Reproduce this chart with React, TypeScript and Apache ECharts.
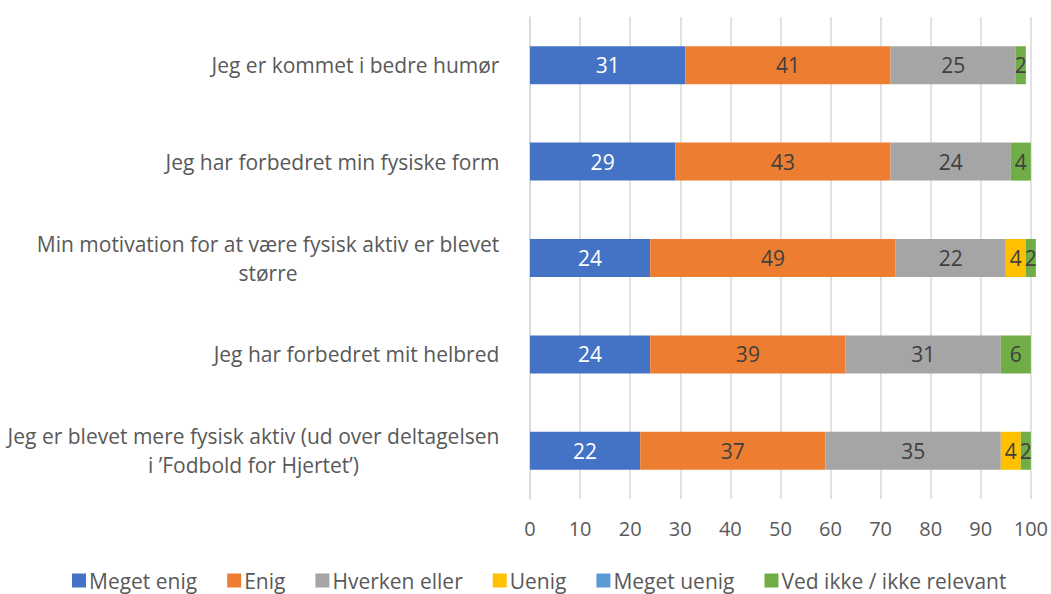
import React, { useEffect, useRef } from "react";
import * as echarts from "echarts";

const categories = [
  "Jeg er kommet i bedre humør",
  "Jeg har forbedret min fysiske form",
  "Min motivation for at være fysisk aktiv er blevet større",
  "Jeg har forbedret mit helbred",
  "Jeg er blevet mere fysisk aktiv (ud over deltagelsen i ’Fodbold for Hjertet’)",
];

const seriesNames = [
  "Meget enig",
  "Enig",
  "Hverken eller",
  "Uenig",
  "Meget uenig",
  "Ved ikke / ikke relevant",
];

const megetEnig = [31, 29, 24, 24, 22];
const enig = [41, 43, 49, 39, 37];
const hverkenEller = [25, 24, 22, 31, 35];
const uenig = [0, 0, 4, 0, 4];
const megetUenig = [0, 0, 0, 0, 0];
const vedIkke = [2, 4, 2, 6, 2];

const xTicks = [0, 100, 10]; // min, max, interval

const colors = ["#4472C4", "#ED7D31", "#A5A5A5", "#FFC000", "#5B9BD5", "#70AD47"];
const labelColors = ["#FFFFFF", "#404040", "#404040", "#404040", "#404040", "#404040"];

const FONT = "'Open Sans', sans-serif";
const CAT_SIZE = 21;
const WRAP_W = 498;

function wrapLabels(texts: string[]) {
  const canvas = document.createElement("canvas");
  const ctx = canvas.getContext("2d")!;
  ctx.font = `${CAT_SIZE}px ${FONT}`;
  return texts.map((t) => {
    const words = t.split(" ");
    const lines: string[] = [];
    let cur = "";
    for (const w of words) {
      const test = cur ? cur + " " + w : w;
      if (cur && ctx.measureText(test).width > WRAP_W) {
        lines.push(cur);
        cur = w;
      } else cur = test;
    }
    if (cur) lines.push(cur);
    const width = Math.ceil(Math.max(...lines.map((l) => ctx.measureText(l).width))) + 1;
    return { lines, width };
  });
}

export default function App() {
  const ref = useRef<HTMLDivElement>(null);
  useEffect(() => {
    if (!ref.current) return;
    const chart = echarts.init(ref.current, null, { renderer: "svg" });
    const values = [megetEnig, enig, hverkenEller, uenig, megetUenig, vedIkke];
    const wrapped = wrapLabels(categories);
    const rich: Record<string, any> = {};
    wrapped.forEach((w, i) => {
      rich["c" + i] = {
        width: w.width,
        align: "center",
        fontSize: CAT_SIZE,
        color: "#595959",
        fontFamily: FONT,
        lineHeight: 29,
      };
    });
    chart.setOption({
      animation: false,
      textStyle: { fontFamily: FONT },
      grid: { left: 530, right: 19, top: 17, bottom: 95, containLabel: false },
      legend: {
        top: 570,
        left: 72,
        padding: 0,
        icon: "rect",
        itemWidth: 14,
        itemHeight: 14,
        itemGap: 30,
        textStyle: { fontSize: 21, color: "#595959", fontFamily: FONT, padding: [0, 0, 0, -2] },
        data: seriesNames,
      },
      xAxis: {
        type: "value",
        min: xTicks[0],
        max: xTicks[1],
        interval: xTicks[2],
        axisLine: { show: false },
        axisTick: { show: false },
        splitLine: { show: true, lineStyle: { color: "#D9D9D9", width: 1.5 } },
        axisLabel: { fontSize: 20, color: "#595959", margin: 19, fontFamily: FONT },
      },
      yAxis: {
        type: "category",
        inverse: true,
        data: categories,
        axisLine: { show: true, lineStyle: { color: "#D9D9D9", width: 1.5 } },
        axisTick: { show: false },
        axisLabel: {
          margin: 30,
          align: "right",
          fontFamily: FONT,
          fontSize: CAT_SIZE,
          color: "#595959",
          lineHeight: 29,
          formatter: (_v: string, idx: number) =>
            wrapped[idx].lines.map((l) => `{c${idx}|${l}}`).join("\n"),
          rich,
        },
      },
      series: seriesNames.map((name, i) => ({
        name,
        type: "bar",
        stack: "total",
        barWidth: 38,
        clip: false,
        data: values[i],
        itemStyle: { color: colors[i] },
        label: {
          show: true,
          position: "inside",
          fontSize: 21,
          color: labelColors[i],
          fontFamily: FONT,
          formatter: (p: any) => (p.value ? String(p.value) : ""),
        },
      })),
    });
    return () => chart.dispose();
  }, []);
  return (
    <div
      ref={ref}
      style={{ position: "fixed", left: 0, top: 0, width: 1051, height: 594, background: "#fff" }}
    />
  );
}
